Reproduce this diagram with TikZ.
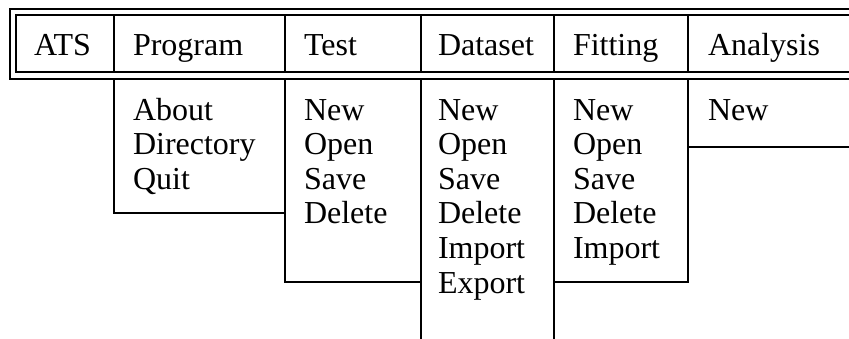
\documentclass[tikz,border=0pt]{standalone}
\usepackage{fontspec}
\setmainfont{Liberation Serif}

\begin{document}
\begin{tikzpicture}[x=0.5pt, y=-0.5pt, line width=1pt,
        every node/.style={anchor=base west, inner sep=0pt, font=\fontsize{16}{17}\selectfont}]
        \useasboundingbox (0,0) rectangle (849,338);
        \clip (0,0) rectangle (849,338);

        % Menu bar
        \draw (10,9) rectangle (870,79);
        \draw[line width=0.8pt] (16,15) rectangle (870,72);
        \foreach \x in {114,285,421,554,688} \draw[line width=0.8pt] (\x,15) -- (\x,72);

        \node (ats) at (33,55) {ATS};
        \node (program) at (132,55) {Program};
        \node (test) at (303,55) {Test};
        \node (dataset) at (437,55) {Dataset};
        \node (fitting) at (572,55) {Fitting};
        \node (analysis) at (707,55) {Analysis};

        % Drop-down menus
        \draw (114,79) -- (114,213) -- (285,213);
        \draw (285,79) -- (285,282) -- (421,282);
        \draw (421,79) -- (421,345);
        \draw (554,79) -- (554,345);
        \draw (554,282) -- (688,282) -- (688,79);
        \draw (688,147) -- (870,147);

        % Menu items
        \foreach \t [count=\i] in {About,Directory,Quit}
            \node (program\i) at (132,{85.4+34.6*\i}) {\t};
        \foreach \t [count=\i] in {New,Open,Save,Delete}
            \node (test\i) at (303,{85.4+34.6*\i}) {\t};
        \foreach \t [count=\i] in {New,Open,Save,Delete,Import,Export}
            \node (dataset\i) at (437,{85.4+34.6*\i}) {\t};
        \foreach \t [count=\i] in {New,Open,Save,Delete,Import}
            \node (fitting\i) at (572,{85.4+34.6*\i}) {\t};
        \node (analysis1) at (707,120) {New};
    \end{tikzpicture}
\end{document}
